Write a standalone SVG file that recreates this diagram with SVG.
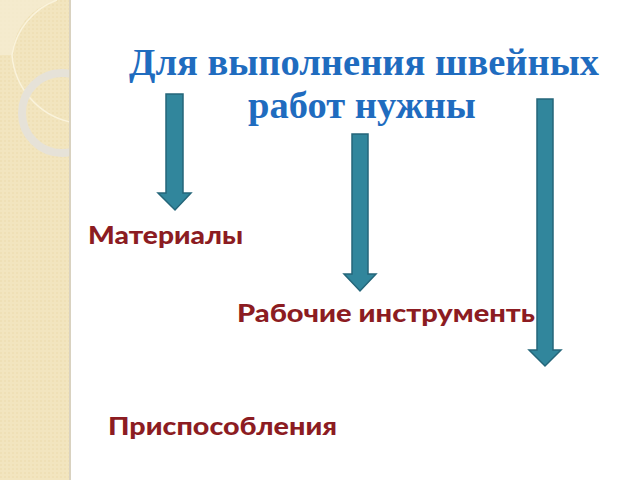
<svg xmlns="http://www.w3.org/2000/svg" width="640" height="480" viewBox="0 0 640 480">
<defs>
<style>
.title{font-family:"Liberation Serif","Times New Roman",serif;font-weight:bold;font-size:38.5px;fill:#1f6cbf;text-anchor:middle}
.lbl{font-family:"Lato","Open Sans",sans-serif;font-weight:900;font-size:25px;fill:#8c1c22}
.arrow{fill:#31869c;stroke:#24667a;stroke-width:1.5;stroke-linejoin:miter}
</style>
<pattern id="dots" width="4" height="4" patternUnits="userSpaceOnUse">
<rect width="4" height="4" fill="#f2e5bf"/>
<rect width="2" height="2" fill="#efe0b6"/>
</pattern>
<clipPath id="side"><rect x="0" y="0" width="70" height="480"/></clipPath>
</defs>
<rect width="640" height="480" fill="#ffffff"/>
<g id="sidebar">
<rect x="0" y="0" width="70" height="480" fill="url(#dots)"/>
<g clip-path="url(#side)">
<path d="M0,0 H57 A60,60 0 0 0 12,55 H0 Z" fill="#f5ecd2" opacity="0.8"/>
<path d="M57,0 A70,70 0 0 0 12,55 A75,75 0 0 0 70,122" fill="none" stroke="#faf3dc" stroke-width="1.5"/>
<circle cx="62" cy="113" r="40" fill="none" stroke="#e6e2d8" stroke-width="8"/>
</g>
<rect x="69" y="0" width="2" height="480" fill="#d9d2c0"/>
</g>
<g id="title">
<text class="title" x="364" y="75">Для выполнения швейных</text>
<text class="title" x="362" y="118">работ нужны</text>
</g>
<g id="connectors">
<polygon class="arrow" points="166,94 183,94 183,193 191,193 175,210 158,193 166,193"/>
<polygon class="arrow" points="352,134 368,134 368,274 376,274 360,291 344,274 352,274"/>
<polygon class="arrow" points="537,99 553,99 553,350 561,350 545,366 529,350 537,350"/>
</g>
<g id="node-materials"><text class="lbl" x="88" y="244" textLength="155" lengthAdjust="spacingAndGlyphs">Материалы</text></g>
<g id="node-tools"><text class="lbl" x="237" y="322" textLength="298" lengthAdjust="spacingAndGlyphs">Рабочие инструменть</text></g>
<g id="node-devices"><text class="lbl" x="108" y="435" textLength="229" lengthAdjust="spacingAndGlyphs">Приспособления</text></g>
</svg>
